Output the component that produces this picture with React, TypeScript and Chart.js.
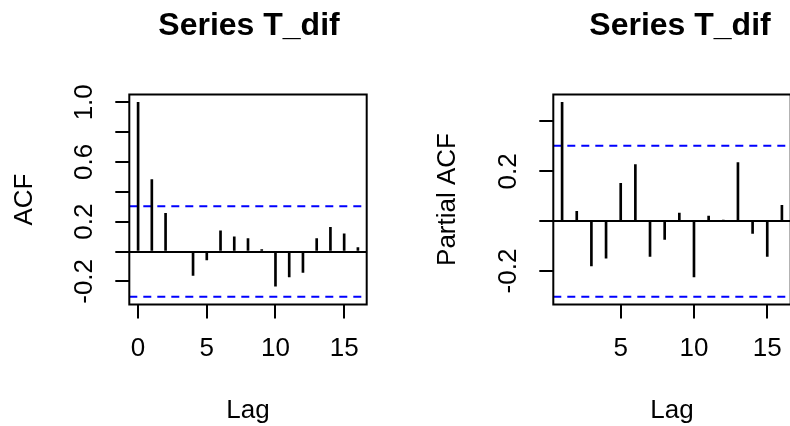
import React, { useEffect, useRef } from 'react';
import { Chart, registerables } from 'chart.js';

Chart.register(...registerables);

// ---- data ----
const acfLags = [0, 1, 2, 3, 4, 5, 6, 7, 8, 9, 10, 11, 12, 13, 14, 15, 16];
const acfValues = [1.0, 0.482, 0.255, -0.005, -0.16, -0.056, 0.138, 0.098, 0.087, 0.013, -0.233, -0.171, -0.14, 0.087, 0.162, 0.118, 0.027];
const pacfLags = [1, 2, 3, 4, 5, 6, 7, 8, 9, 10, 11, 12, 13, 14, 15, 16];
const pacfValues = [0.477, 0.04, -0.179, -0.148, 0.152, 0.227, -0.141, -0.073, 0.033, -0.224, 0.02, 0.003, 0.235, -0.049, -0.141, 0.064];
const ciBound = 0.303;

const mainTitle = 'Series T_dif';
const xTitle = 'Lag';
const acfYTitle = 'ACF';
const pacfYTitle = 'Partial ACF';
const xTickValues = [0, 5, 10, 15];
const acfYTicks = [-0.2, 0, 0.2, 0.4, 0.6, 0.8, 1.0];
const acfYLabelled = [-0.2, 0.2, 0.6, 1.0];
const pacfYTicks = [-0.2, 0, 0.2, 0.4];
const pacfYLabelled = [-0.2, 0.2];

const FONT = '"Liberation Sans", Arial, Helvetica, sans-serif';
const H = 426;

function padRange(lo: number, hi: number): [number, number] {
  const d = (hi - lo) * 0.04;
  return [lo - d, hi + d];
}

const boxPlugin = {
  id: 'rbox',
  afterDatasetsDraw(chart: any) {
    const { ctx, chartArea: a } = chart;
    ctx.save();
    ctx.strokeStyle = '#000';
    ctx.lineWidth = 2;
    ctx.strokeRect(a.left, a.top, a.right - a.left, a.bottom - a.top);
    ctx.restore();
  },
};

const near = (a: number, b: number) => Math.abs(a - b) < 1e-9;

function makeConfig(o: {
  lags: number[];
  values: number[];
  yTitle: string;
  yTicks: number[];
  yLabelled: number[];
  yAxisWidth: number;
  rightWidth: number;
  yTitlePad: number;
}): any {
  const [xMin, xMax] = padRange(Math.min(...o.lags), Math.max(...o.lags));
  const [yMin, yMax] = padRange(Math.min(-ciBound, ...o.values), Math.max(ciBound, ...o.values));
  const xTicksVisible = xTickValues.filter((v) => v >= xMin && v <= xMax);
  const ciLine = (y: number) => ({
    type: 'line',
    data: [
      { x: xMin, y },
      { x: xMax, y },
    ],
    borderColor: '#0000ff',
    borderWidth: 2,
    borderDash: [8, 6],
    pointRadius: 0,
    fill: false,
    xAxisID: 'x',
    yAxisID: 'y',
  });
  return {
    type: 'bar',
    data: {
      datasets: [
        {
          type: 'bar',
          data: o.lags.map((l, i) => ({ x: l, y: o.values[i] })),
          backgroundColor: '#000',
          borderWidth: 0,
          barThickness: 2,
          xAxisID: 'x',
          yAxisID: 'y',
        },
        ciLine(ciBound),
        ciLine(-ciBound),
      ],
    },
    options: {
      responsive: false,
      animation: false,
      devicePixelRatio: 1,
      layout: { padding: 0 },
      plugins: {
        legend: { display: false },
        tooltip: { enabled: false },
        title: {
          display: true,
          text: mainTitle,
          color: '#000',
          fullSize: true,
          font: { family: FONT, size: 32, weight: 'bold', lineHeight: 1.2 },
          padding: { top: 6.9, bottom: 49.2 },
        },
      },
      scales: {
        x: {
          type: 'linear',
          position: 'bottom',
          min: xMin,
          max: xMax,
          offset: false,
          afterBuildTicks: (s: any) => {
            s.ticks = xTicksVisible.map((v) => ({ value: v }));
          },
          afterFit: (s: any) => {
            s.height = H - 304.5;
          },
          grid: { drawOnChartArea: false, drawTicks: true, tickLength: 14, color: '#000', lineWidth: 2, offset: false },
          border: { display: false },
          ticks: {
            color: '#000',
            font: { family: FONT, size: 26, lineHeight: 1.2 },
            padding: 15,
            maxRotation: 0,
            minRotation: 0,
            autoSkip: false,
            callback: (v: any) => String(v),
          },
          title: {
            display: true,
            text: xTitle,
            color: '#000',
            font: { family: FONT, size: 26, lineHeight: 1.2 },
            padding: { top: 0, bottom: 0 },
          },
        },
        y: {
          type: 'linear',
          position: 'left',
          min: yMin,
          max: yMax,
          afterBuildTicks: (s: any) => {
            s.ticks = o.yTicks.map((v) => ({ value: v }));
          },
          afterFit: (s: any) => {
            s.width = o.yAxisWidth;
          },
          grid: {
            drawOnChartArea: true,
            drawTicks: true,
            tickLength: 14,
            lineWidth: 2,
            tickColor: '#000',
            color: (c: any) => (c.tick && near(c.tick.value, 0) ? '#000' : 'rgba(0,0,0,0)'),
          },
          border: { display: false },
          ticks: {
            color: '#000',
            font: { family: FONT, size: 26, lineHeight: 1.2 },
            minRotation: 90,
            maxRotation: 90,
            crossAlign: 'center',
            padding: 8,
            autoSkip: false,
            callback: (v: any) => (o.yLabelled.some((l) => near(l, Number(v))) ? Number(v).toFixed(1) : ''),
          },
          title: {
            display: true,
            text: o.yTitle,
            color: '#000',
            font: { family: FONT, size: 26, lineHeight: 1.2 },
            padding: { top: o.yTitlePad, bottom: 0 },
          },
        },
        y2: {
          type: 'linear',
          axis: 'y',
          position: 'right',
          display: true,
          grid: { display: false },
          ticks: { display: false },
          border: { display: false },
          afterFit: (s: any) => {
            s.width = o.rightWidth;
          },
        },
      },
    },
    plugins: [boxPlugin],
  };
}

function Panel({ config, left, width }: { config: any; left: number; width: number }) {
  const ref = useRef<HTMLCanvasElement>(null);
  useEffect(() => {
    const chart = new Chart(ref.current as HTMLCanvasElement, config);
    return () => chart.destroy();
  }, []);
  return (
    <canvas
      ref={ref}
      width={width}
      height={H}
      style={{ position: 'absolute', left, top: 0, width, height: H, display: 'block' }}
    />
  );
}

export default function App() {
  const acfConfig = makeConfig({
    lags: acfLags,
    values: acfValues,
    yTitle: acfYTitle,
    yTicks: acfYTicks,
    yLabelled: acfYLabelled,
    yAxisWidth: 129.3,
    rightWidth: 498 - 366.7,
    yTitlePad: 9.4,
  });
  const pacfConfig = makeConfig({
    lags: pacfLags,
    values: pacfValues,
    yTitle: pacfYTitle,
    yTicks: pacfYTicks,
    yLabelled: pacfYLabelled,
    yAxisWidth: 129.3,
    rightWidth: 512 - 366.7,
    yTitlePad: 7.9,
  });
  return (
    <div
      style={{
        position: 'absolute',
        left: 0,
        top: 0,
        width: 790,
        height: H,
        overflow: 'hidden',
        background: '#fff',
      }}
    >
      <Panel config={acfConfig} left={0} width={498} />
      <Panel config={pacfConfig} left={424} width={512} />
    </div>
  );
}
